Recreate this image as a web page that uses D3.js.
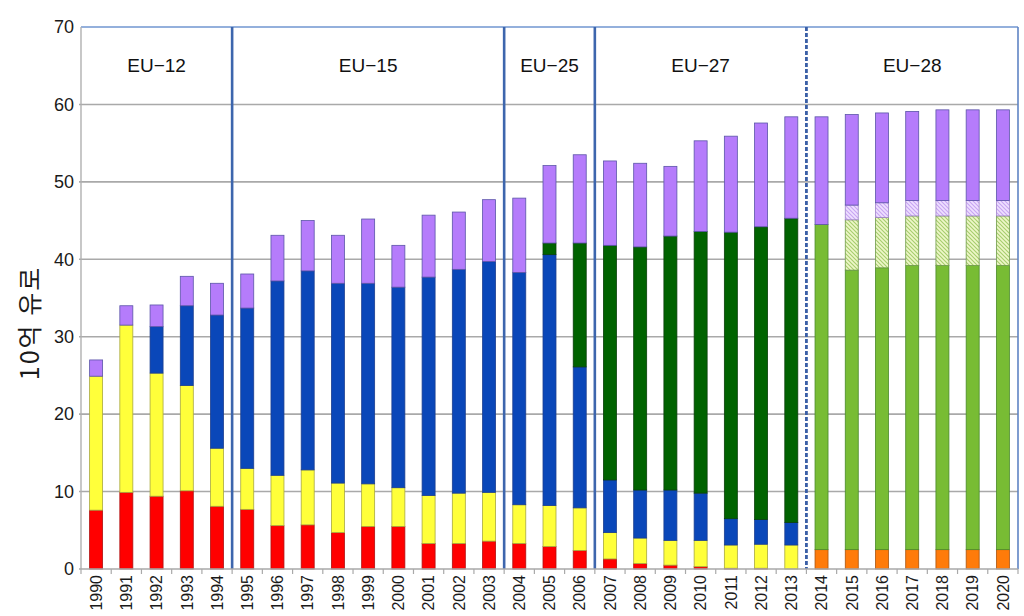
<!DOCTYPE html>
<html><head><meta charset="utf-8">
<script src="https://cdn.jsdelivr.net/npm/d3@7/dist/d3.min.js"></script>
<style>body{margin:0;background:#fff}svg{display:block}</style>
</head><body>
<svg id="chart" width="1024" height="616"></svg>
<script>
// ---- data (10억 유로) ----
const years = ["1990","1991","1992","1993","1994","1995","1996","1997","1998","1999","2000",
  "2001","2002","2003","2004","2005","2006","2007","2008","2009","2010","2011","2012","2013",
  "2014","2015","2016","2017","2018","2019","2020"];
const yTicks = [0,10,20,30,40,50,60,70];

const seriesKeys = ["red","yellow","blue","darkGreen","orange","lightGreen","hatchGreen","hatchLavender","purple"];
const red        = [7.6,9.9,9.4,10.1,8.1,7.7,5.6,5.7,4.7,5.5,5.5,3.3,3.3,3.6,3.3,2.9,2.4,1.3,0.7,0.5,0.3,0.1,0.1,0,0,0,0,0,0,0,0];
const yellow     = [17.3,21.6,15.9,13.6,7.5,5.3,6.5,7.1,6.4,5.5,5.0,6.2,6.5,6.3,5.0,5.3,5.5,3.4,3.3,3.2,3.4,3.0,3.1,3.1,0,0,0,0,0,0,0];
const blue       = [0,0,6.0,10.3,17.2,20.7,25.1,25.7,25.8,25.9,25.9,28.2,28.9,29.8,30.0,32.4,18.2,6.8,6.2,6.5,6.1,3.4,3.2,2.9,0,0,0,0,0,0,0];
const darkGreen  = [0,0,0,0,0,0,0,0,0,0,0,0,0,0,0,1.5,16.0,30.3,31.4,32.8,33.8,37.0,37.8,39.3,0,0,0,0,0,0,0];
const orange     = [0,0,0,0,0,0,0,0,0,0,0,0,0,0,0,0,0,0,0,0,0,0,0,0,2.5,2.5,2.5,2.5,2.5,2.5,2.5];
const lightGreen = [0,0,0,0,0,0,0,0,0,0,0,0,0,0,0,0,0,0,0,0,0,0,0,0,42.0,36.1,36.4,36.7,36.7,36.7,36.7];
const hatchGreen = [0,0,0,0,0,0,0,0,0,0,0,0,0,0,0,0,0,0,0,0,0,0,0,0,0,6.5,6.5,6.4,6.4,6.4,6.4];
const hatchLavender = [0,0,0,0,0,0,0,0,0,0,0,0,0,0,0,0,0,0,0,0,0,0,0,0,0,1.9,1.9,2.0,2.0,2.0,2.0];
const purple     = [2.1,2.5,2.8,3.8,4.1,4.4,5.9,6.5,6.2,8.3,5.4,8.0,7.4,8.0,9.6,10.0,11.4,10.9,10.8,9.0,11.7,12.4,13.4,13.1,13.9,11.7,11.6,11.5,11.7,11.7,11.7];

const periodLabels = ["EU−12","EU−15","EU−25","EU−27","EU−28"];
const periodStart  = ["1990","1995","2004","2007","2014"];
const periodEnd    = ["1994","2003","2006","2013","2020"];
const yTitle = "10억 유로";

// ---- build ----
const seriesData = {red,yellow,blue,darkGreen,orange,lightGreen,hatchGreen,hatchLavender,purple};
const table = years.map((yr,i)=>{ const o={year:yr}; seriesKeys.forEach(k=>o[k]=seriesData[k][i]); return o; });

const fills = {red:"#ff0000",yellow:"#ffff3a",blue:"#0a47b9",darkGreen:"#006300",orange:"#ff7b0a",
  lightGreen:"#78bc34",hatchGreen:"url(#hG)",hatchLavender:"url(#hL)",purple:"#b57cfb"};
const strokes = {red:"#b01010",yellow:"#a8a840",blue:"#1d3f8f",darkGreen:"#0b3f0b",orange:"#a85410",
  lightGreen:"#4a8a2a",hatchGreen:"#6f9a4a",hatchLavender:"#9f84c8",purple:"#5b55a8"};

const W=1024,H=616, L=81, R=1018, T=27, B=569;
const svg = d3.select("#chart");
const defs = svg.append("defs");
function hatch(id,bg,fg){
  const p=defs.append("pattern").attr("id",id).attr("patternUnits","userSpaceOnUse").attr("width",4).attr("height",4);
  p.append("rect").attr("width",4).attr("height",4).attr("fill",bg);
  p.append("path").attr("d","M-1,-1L5,5M-1,3L1,5M3,-1L5,1").attr("stroke",fg).attr("stroke-width",1.1);
}
hatch("hG","#eef7c9","#a6cd6c");
hatch("hL","#efe0ff","#c7a4f3");

const x = d3.scaleBand().domain(years).range([L,R]).paddingInner(0.57).paddingOuter(0.285);
const y = d3.scaleLinear().domain([0,70]).range([B,T]);
const half = (x.step()-x.bandwidth())/2;

// gridlines
svg.append("g").selectAll("line").data(yTicks.filter(t=>t>0 && t<70)).join("line")
  .attr("x1",L-2).attr("x2",R).attr("y1",d=>y(d)).attr("y2",d=>y(d))
  .attr("stroke","#a9a9a9").attr("stroke-width",1.6);

// stacked bars
const stack = d3.stack().keys(seriesKeys)(table);
const gBars = svg.append("g");
stack.forEach(layer=>{
  const k = layer.key;
  gBars.append("g").selectAll("rect").data(layer.filter(d=>d[1]-d[0]>0.001)).join("rect")
    .attr("x",d=>x(d.data.year)).attr("width",x.bandwidth())
    .attr("y",d=>y(d[1])).attr("height",d=>y(d[0])-y(d[1]))
    .attr("fill",fills[k]).attr("stroke",strokes[k]).attr("stroke-width",0.8);
});

// top border & right border
svg.append("line").attr("x1",L).attr("x2",R).attr("y1",y(70)).attr("y2",y(70)).attr("stroke","#7096d0").attr("stroke-width",1.6);
svg.append("line").attr("x1",R).attr("x2",R).attr("y1",T).attr("y2",B).attr("stroke","#5f84c4").attr("stroke-width",1.6);
// left axis line
svg.append("line").attr("x1",L).attr("x2",L).attr("y1",T).attr("y2",B).attr("stroke","#b0b0b0").attr("stroke-width",1.4);

// period separators
periodStart.slice(1).forEach((s,i)=>{
  const xs = x(s)-half;
  const dashed = s==="2014";
  svg.append("line").attr("x1",xs).attr("x2",xs).attr("y1",T).attr("y2",B)
    .attr("stroke",dashed?"#3a5fa6":"#3d66ad").attr("stroke-width",dashed?2.8:2.6)
    .attr("stroke-dasharray",dashed?"4,2":null);
});

// period labels
svg.append("g").selectAll("text").data(periodLabels).join("text")
  .attr("x",(d,i)=>((x(periodStart[i])-half)+(x(periodEnd[i])+x.bandwidth()+half))/2)
  .attr("y",72).attr("text-anchor","middle")
  .attr("font-family","'Liberation Sans',Arial,sans-serif").attr("font-size",19).attr("fill","#111")
  .text(d=>d);

// y axis
const yAxis = svg.append("g").attr("transform",`translate(${L},0)`)
  .call(d3.axisLeft(y).tickValues(yTicks).tickSize(0).tickPadding(7));
yAxis.select(".domain").remove();
yAxis.selectAll("text").attr("font-family","'Liberation Sans',Arial,sans-serif").attr("font-size",18).attr("fill","#1a1a1a");

// x axis
const xAxis = svg.append("g").attr("transform",`translate(0,${B})`);
xAxis.append("line").attr("x1",L-2).attr("x2",R).attr("y1",0).attr("y2",0).attr("stroke","#a9a9a9").attr("stroke-width",1.6);
xAxis.selectAll("line.tk").data(years.concat(["end"])).join("line").attr("class","tk")
  .attr("x1",(d,i)=>L+i*x.step()).attr("x2",(d,i)=>L+i*x.step()).attr("y1",0).attr("y2",5)
  .attr("stroke","#a9a9a9").attr("stroke-width",1.2);
xAxis.selectAll("text").data(years).join("text")
  .attr("transform",d=>`translate(${x(d)+x.bandwidth()/2},6) rotate(-90)`)
  .attr("text-anchor","end").attr("dy","0.36em")
  .attr("font-family","'Liberation Sans',Arial,sans-serif").attr("font-size",16).attr("fill","#1a1a1a")
  .text(d=>d);

// y title
svg.append("text").attr("transform","translate(30,323) rotate(-90)")
  .attr("text-anchor","middle").attr("dy","0.36em")
  .attr("font-family","'Noto Sans CJK KR',sans-serif").attr("font-size",25).attr("letter-spacing",2).attr("fill","#1a1a1a")
  .text(yTitle);
</script>
</body></html>
